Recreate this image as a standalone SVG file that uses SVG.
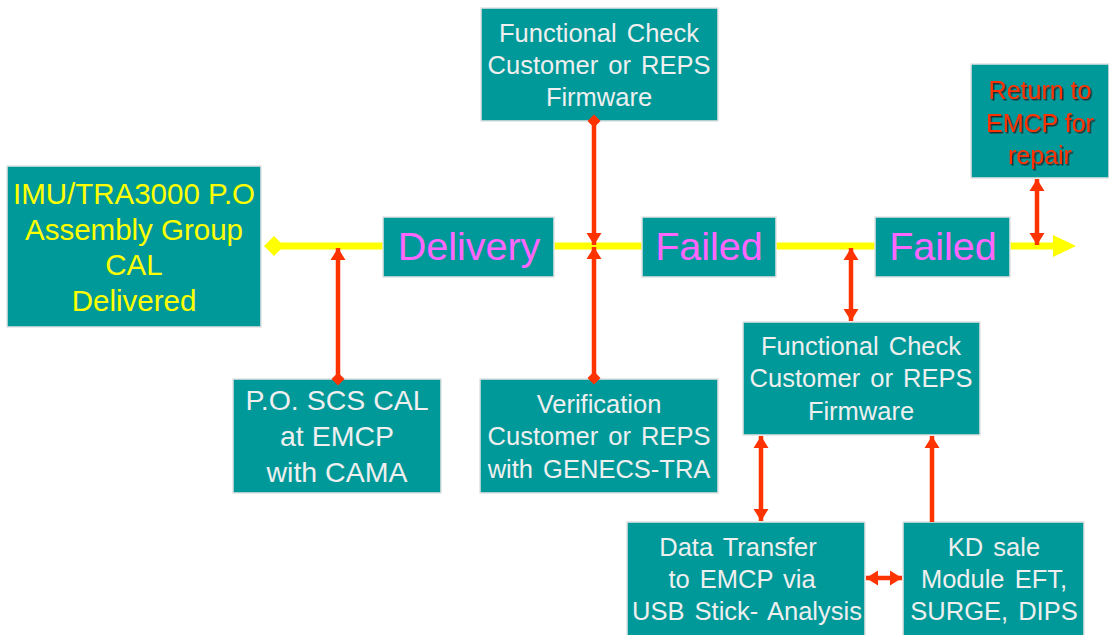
<svg xmlns="http://www.w3.org/2000/svg" width="1109" height="635" viewBox="0 0 1109 635">
<style>
.box{fill:#009999;stroke:#e4e4e4;stroke-width:1.5}
text{font-family:"Liberation Sans",Arial,sans-serif;text-anchor:middle}
.w{fill:#efefef;font-size:25.5px;word-spacing:3px}
.y{fill:#ffff00;font-size:29.5px}
.m{fill:#ff66ff;font-size:39.5px}
.r{fill:#ff3300;font-size:25px;filter:url(#sh)}
.red{stroke:#ff3300;stroke-width:4.5;fill:none}
.yl{stroke:#ffff00;stroke-width:7;fill:none}
</style>
<defs>
<filter id="sh" x="-10%" y="-10%" width="130%" height="140%">
<feDropShadow dx="1.5" dy="1.5" stdDeviation="0.6" flood-color="#222" flood-opacity="0.9"/>
</filter>
<marker id="ah" markerUnits="userSpaceOnUse" markerWidth="16" markerHeight="16" refX="12" refY="8" orient="auto-start-reverse" viewBox="0 0 16 16">
<path d="M0,0.5 L12,8 L0,15.5 Z" fill="#ff3300"/>
</marker>
<marker id="dm" markerUnits="userSpaceOnUse" markerWidth="14" markerHeight="14" refX="7" refY="7" orient="auto" viewBox="0 0 14 14">
<path d="M7,0.5 L13.5,7 L7,13.5 L0.5,7 Z" fill="#ff3300"/>
</marker>
</defs>
<g id="yellow-connector">
<path class="yl" d="M274,246 H383 M554,246 H642 M776,246 H875 M1010,246 H1055"/>
<path d="M264,246 L274,236 L284,246 L274,256 Z" fill="#ffff00"/>
<path d="M1053,235 L1076,246 L1053,257 Z" fill="#ffff00"/>
</g>
<g id="n-imu"><rect class="box" x="7" y="166" width="254" height="161"/>
<text class="y" x="134" y="204">IMU/TRA3000 P.O</text>
<text class="y" x="134" y="240">Assembly Group</text>
<text class="y" x="134" y="275">CAL</text>
<text class="y" x="134" y="311">Delivered</text></g>
<g id="n-delivery"><rect class="box" x="383" y="217" width="171" height="60"/>
<text class="m" x="469" y="260">Delivery</text></g>
<g id="n-failed1"><rect class="box" x="642" y="217" width="134" height="60"/>
<text class="m" x="709" y="260">Failed</text></g>
<g id="n-failed2"><rect class="box" x="875" y="217" width="135" height="60"/>
<text class="m" x="943" y="260">Failed</text></g>
<g id="n-fc-top"><rect class="box" x="481" y="8" width="237" height="113"/>
<text class="w" x="599" y="42">Functional Check</text>
<text class="w" x="599" y="74">Customer or REPS</text>
<text class="w" x="599" y="106">Firmware</text></g>
<g id="n-return"><rect class="box" x="971" y="64" width="138" height="114"/>
<text class="r" x="1040" y="99">Return to</text>
<text class="r" x="1040" y="132">EMCP for</text>
<text class="r" x="1040" y="164">repair</text></g>
<g id="n-po"><rect class="box" x="233" y="379" width="208" height="114"/>
<text class="w" x="337" y="410" style="font-size:28.5px;word-spacing:0">P.O. SCS CAL</text>
<text class="w" x="337" y="446" style="font-size:28.5px;word-spacing:0">at EMCP</text>
<text class="w" x="337" y="482" style="font-size:28.5px;word-spacing:0">with CAMA</text></g>
<g id="n-verification"><rect class="box" x="480" y="379" width="238" height="114"/>
<text class="w" x="599" y="413">Verification</text>
<text class="w" x="599" y="445">Customer or REPS</text>
<text class="w" x="599" y="478">with GENECS-TRA</text></g>
<g id="n-fc-low"><rect class="box" x="743" y="322" width="237" height="113"/>
<text class="w" x="861" y="355">Functional Check</text>
<text class="w" x="861" y="387">Customer or REPS</text>
<text class="w" x="861" y="420">Firmware</text></g>
<g id="n-data"><rect class="box" x="627" y="522" width="238" height="118"/>
<text class="w" x="738" y="556">Data Transfer</text>
<text class="w" x="742" y="588">to EMCP via</text>
<text class="w" x="747" y="620">USB Stick- Analysis</text></g>
<g id="n-kd"><rect class="box" x="903" y="522" width="181" height="118"/>
<text class="w" x="994" y="556">KD sale</text>
<text class="w" x="994" y="588">Module EFT,</text>
<text class="w" x="994" y="620">SURGE, DIPS</text></g>
<g id="connectors">
<path class="red" d="M338,379 V248" marker-start="url(#dm)" marker-end="url(#ah)"/>
<path class="red" d="M594,121 V245" marker-start="url(#dm)" marker-end="url(#ah)"/>
<path class="red" d="M594,378 V247" marker-start="url(#dm)" marker-end="url(#ah)"/>
<path class="red" d="M851,248 V321" marker-start="url(#ah)" marker-end="url(#ah)"/>
<path class="red" d="M1037,179 V245" marker-start="url(#ah)" marker-end="url(#ah)"/>
<path class="red" d="M761,436 V521" marker-start="url(#ah)" marker-end="url(#ah)"/>
<path class="red" d="M932,522 V436" marker-end="url(#ah)"/>
<path class="red" d="M866,578 H902" marker-start="url(#ah)" marker-end="url(#ah)"/>
</g>
</svg>
